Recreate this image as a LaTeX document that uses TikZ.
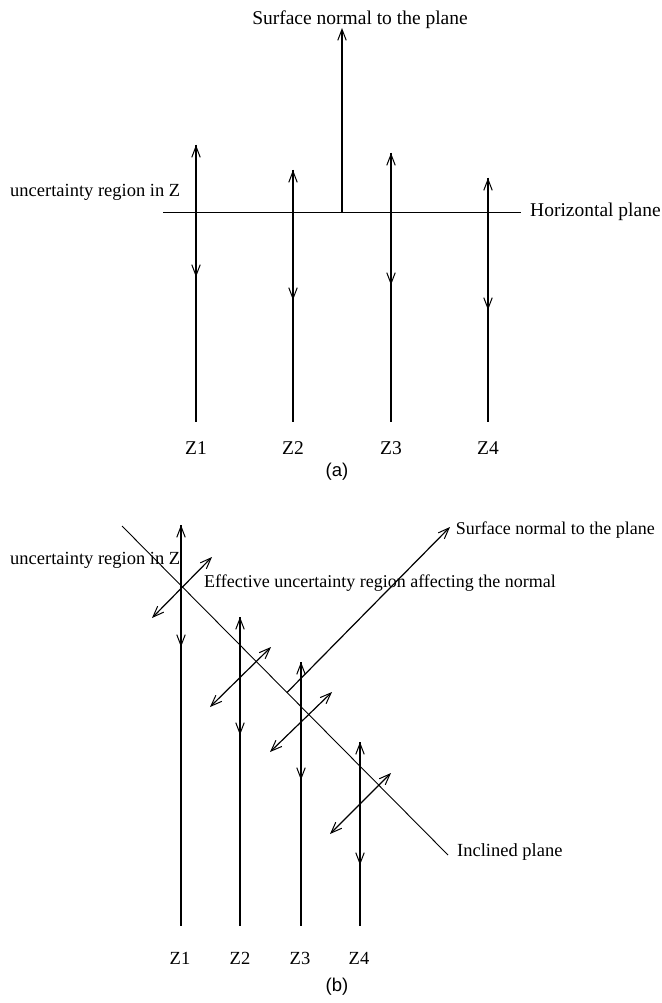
\documentclass[tikz,border=0pt]{standalone}
\usepackage{fontspec}
\setmainfont{Liberation Serif}
\newfontfamily\capfont{Liberation Sans}
\usetikzlibrary{arrows.meta}
\begin{document}
\begin{tikzpicture}[x=1pt,y=-1pt,
  lbl/.style={inner sep=0pt,font=\fontsize{18.5}{20}\selectfont},
  captext/.style={inner sep=0pt,font=\capfont\fontsize{18.5}{20}\selectfont},
  thin line/.style={line width=0.9pt},
  zline/.style={line width=1.2pt},
  barb/.style={arrows={-Straight Barb[length=11pt,width=8.5pt,line width=1pt]}},
  dbarb/.style={arrows={Straight Barb[length=11pt,width=8.5pt,line width=1pt]-Straight Barb[length=11pt,width=8.5pt,line width=1pt]}}]
\useasboundingbox (0,0) rectangle (661,1003);
% ---------------- (a) ----------------
\coordinate (hL) at (163,212);
\coordinate (hR) at (521,212);
\coordinate (nA) at (342,212);
\coordinate (nT) at (342,28);
\draw[thin line] (hL) -- (hR);
\draw[zline,barb] (nA) -- (nT);
\node[lbl,font=\fontsize{19.5}{21}\selectfont] (snA) at (360,20) {Surface normal to the plane};
\node[lbl,anchor=west,font=\fontsize{19.5}{21}\selectfont] (hp) at (530,212) {Horizontal plane};
\node[lbl,anchor=west] (urA) at (10,192) {uncertainty region in Z};
\foreach \n/\x/\t/\d in {1/196/145/277, 2/293/170/300, 3/391/153/285, 4/488/178/310}{
  \coordinate (aT\n) at (\x,\t);
  \coordinate (aD\n) at (\x,\d);
  \coordinate (aB\n) at (\x,422);
  \draw[zline,dbarb] (aD\n) -- (aT\n);
  \draw[zline] (aT\n) -- (aB\n);
  \node[lbl,font=\fontsize{19.5}{21}\selectfont] (aZ\n) at (\x,448) {Z\n};
}
\node[captext] (capA) at (337,472) {(a)};
% ---------------- (b) ----------------
\coordinate (iS) at (122,526);
\coordinate (iE) at (448,855);
\draw[thin line] (iS) -- (iE);
\coordinate (bN0) at (287,692.5);
\coordinate (bN1) at (450,527);
\draw[zline,barb] (bN0) -- (bN1);
\foreach \n/\x/\t/\d/\ax/\ay/\bx/\by in {1/181/525/647/152/618/212/557, 2/240/617/735/210/707/271/647, 3/301/662/780/270/752/332/692, 4/360/742/865/330/834/391/773}{
  \coordinate (bT\n) at (\x,\t);
  \coordinate (bD\n) at (\x,\d);
  \coordinate (bB\n) at (\x,926);
  \draw[zline,dbarb] (bD\n) -- (bT\n);
  \draw[zline] (bT\n) -- (bB\n);
  \coordinate (eA\n) at (\ax,\ay);
  \coordinate (eB\n) at (\bx,\by);
  \draw[zline,dbarb] (eA\n) -- (eB\n);
}
\foreach \n/\x in {1/180,2/240,3/300,4/359}{
  \node[lbl] (bZ\n) at (\x,958) {Z\n};
}
\node[lbl,anchor=west] (urB) at (10,560) {uncertainty region in Z};
\node[lbl,anchor=west,font=\fontsize{18}{20}\selectfont] (eff) at (204,583) {Effective uncertainty region affecting the normal};
\node[lbl,anchor=east,font=\fontsize{18}{20}\selectfont] (snB) at (655,530) {Surface normal to the plane};
\node[lbl,anchor=west] (ip) at (457,852) {Inclined plane};
\node[captext] (capB) at (337,987) {(b)};
\end{tikzpicture}
\end{document}
